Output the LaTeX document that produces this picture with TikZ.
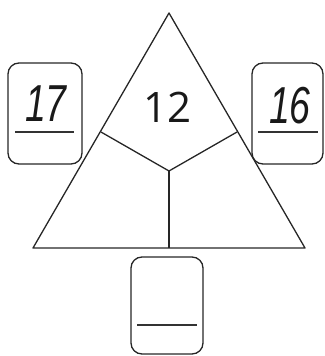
\documentclass[tikz,border=0pt]{standalone}
\usepackage{fontspec}
\setmainfont{Open Sans}
\newfontfamily\handfont[FakeStretch=0.72]{Liberation Sans}
\begin{document}
\begin{tikzpicture}[x=1pt,y=-1pt,
  edge/.style={line width=1.3pt,line join=round,draw=black!85},
  numbox/.style={draw=black!85,line width=1.3pt,rounded corners=11pt,inner sep=0pt},
  rule/.style={line width=1.3pt,draw=black!80},
  hand/.style={font=\handfont\itshape\fontsize{52}{52}\selectfont,inner sep=0pt,text=black!90},
  print/.style={font=\fontsize{42}{42}\selectfont,inner sep=0pt,text=black!90}]
\useasboundingbox (0,0) rectangle (324,356);
% triangle
\coordinate (apex) at (169,13);
\coordinate (bl) at (33,248);
\coordinate (br) at (305,248);
\coordinate (ctr) at (169,171);
\coordinate (lp) at (101,132);
\coordinate (rp) at (237,132);
\coordinate (bm) at (169,248);
\draw[edge] (apex) -- (bl) -- (br) -- cycle;
\draw[edge] (lp) -- (ctr) -- (rp);
\draw[edge] (ctr) -- (bm);
\node[print] (top) at (167.5,107) {12};
% boxes
\node[numbox,minimum width=74pt,minimum height=101pt] (lbox) at (45,113.5) {};
\node[numbox,minimum width=71pt,minimum height=101pt] (rbox) at (287.5,113.5) {};
\node[numbox,minimum width=72pt,minimum height=97pt] (bbox) at (167,305.5) {};
\draw[rule] ([xshift=8pt]lbox.west |- 0,132) coordinate (l1) -- ([xshift=-9pt]lbox.east |- 0,132) coordinate (l2);
\draw[rule] ([xshift=7pt]rbox.west |- 0,132) coordinate (r1) -- ([xshift=-6pt]rbox.east |- 0,132) coordinate (r2);
\draw[rule] ([xshift=7pt]bbox.west |- 0,325) coordinate (b1) -- ([xshift=-7pt]bbox.east |- 0,325) coordinate (b2);
\node[hand] (lnum) at (46,104) {17};
\node[hand] (rnum) at (290,106) {16};
\end{tikzpicture}
\end{document}
